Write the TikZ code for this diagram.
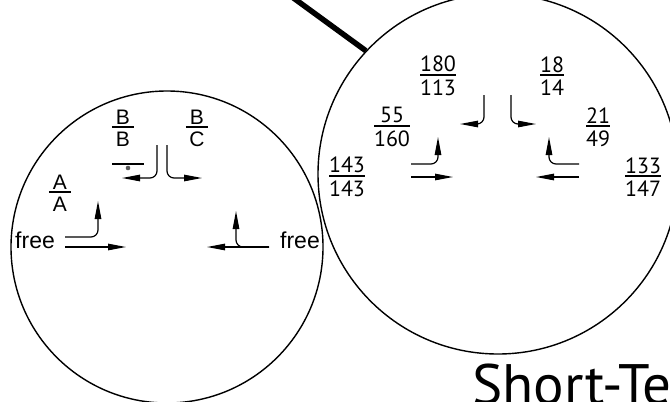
\documentclass[tikz,border=0pt]{standalone}
\usepackage{fontspec}
\setmainfont{Liberation Sans}
\newfontfamily\numfont{PT Sans}
\usetikzlibrary{arrows.meta,positioning}

\newcommand{\fracbox}[3]{\vbox{\halign{\hfil##\hfil\cr\hskip#1#2\hskip#1\cr
  \noalign{\kern2pt\hrule height 2pt\kern3.5pt}#3\cr}}}

\tikzset{
  ring/.style={draw, circle, line width=1.4pt, inner sep=0pt},
  flow/.style={line width=1.2pt, rounded corners=7pt, -{Triangle[length=18pt,width=6.5pt]}},
  lbl/.style={font=\fontsize{23}{26}\selectfont, inner sep=0pt},
  frl/.style={font=\fontsize{21}{23}\selectfont, inner sep=0pt},
  frn/.style={font=\numfont\fontsize{22}{24}\selectfont, inner sep=0pt},
}

\begin{document}
\begin{tikzpicture}[x=1pt,y=-1pt]
    \path[use as bounding box, clip] (0,0) rectangle (670,402);

    \node [ring, minimum size=312pt] (lc) at (167,247) {};
    \node [ring, minimum size=360pt] (rc) at (498,174) {};
    \coordinate (wire) at (288,-6);
    \draw[line width=5.5pt] (wire) -- (rc.137);

    \node [frl] (aa) at (60,193) {\fracbox{4pt}{A}{A}};
    \node [frl] (bb) at (123,128) {\fracbox{4pt}{B}{B}};
    \node [frl] (bc) at (197,128) {\fracbox{4pt}{B}{C}};
    \draw[line width=1.2pt] (112,164) -- (144,164);
    \fill[black!65] (128,168) circle (2.3pt);
    \node [lbl, anchor=base west] (freel) at (15,248) {free};
    \node [lbl, anchor=base east] (freer) at (320,248) {free};

    \coordinate (a1) at (65,237);  \coordinate (a1t) at (98,201);
    \coordinate (a2) at (65,247);  \coordinate (a2t) at (126,247);
    \coordinate (b2) at (269,247); \coordinate (b2t) at (207,247);
    \coordinate (b1t) at (236,211);
    \coordinate (c1) at (157,145); \coordinate (c1t) at (122,178);
    \coordinate (c2) at (167,145); \coordinate (c2t) at (202,178);
    \draw[flow] (a1) -| (a1t);
    \draw[flow] (a2) -- (a2t);
    \draw[flow] (b2) -- (b2t);
    \draw[flow] (b2) -| (b1t);
    \draw[flow] (c1) |- (c1t);
    \draw[flow] (c2) |- (c2t);

    \node [frn] (n1) at (438,76) {\fracbox{0pt}{180}{113}};
    \node [frn] (n2) at (552,76) {\fracbox{0pt}{18}{14}};
    \node [frn] (n3) at (392,127) {\fracbox{0pt}{55}{160}};
    \node [frn] (n4) at (598,127) {\fracbox{0pt}{21}{49}};
    \node [frn] (n5) at (347,177) {\fracbox{0pt}{143}{143}};
    \node [frn] (n6) at (643,177) {\fracbox{0pt}{133}{147}};

    \coordinate (d1) at (484,95);  \coordinate (d1t) at (460,124);
    \coordinate (d2) at (511,95);  \coordinate (d2t) at (536,124);
    \coordinate (e1) at (411,164); \coordinate (e1t) at (438,137);
    \coordinate (e2) at (411,177); \coordinate (e2t) at (453,177);
    \coordinate (g1) at (579,164); \coordinate (g1t) at (549,137);
    \coordinate (g2) at (579,177); \coordinate (g2t) at (536,177);
    \draw[flow] (d1) |- (d1t);
    \draw[flow] (d2) |- (d2t);
    \draw[flow] (e1) -| (e1t);
    \draw[flow] (e2) -- (e2t);
    \draw[flow] (g1) -| (g1t);
    \draw[flow] (g2) -- (g2t);

    \node [font=\numfont\fontsize{57}{60}\selectfont, anchor=base west, inner sep=0pt]
      (title) at (472,404) {Short-Te};
\end{tikzpicture}
\end{document}
